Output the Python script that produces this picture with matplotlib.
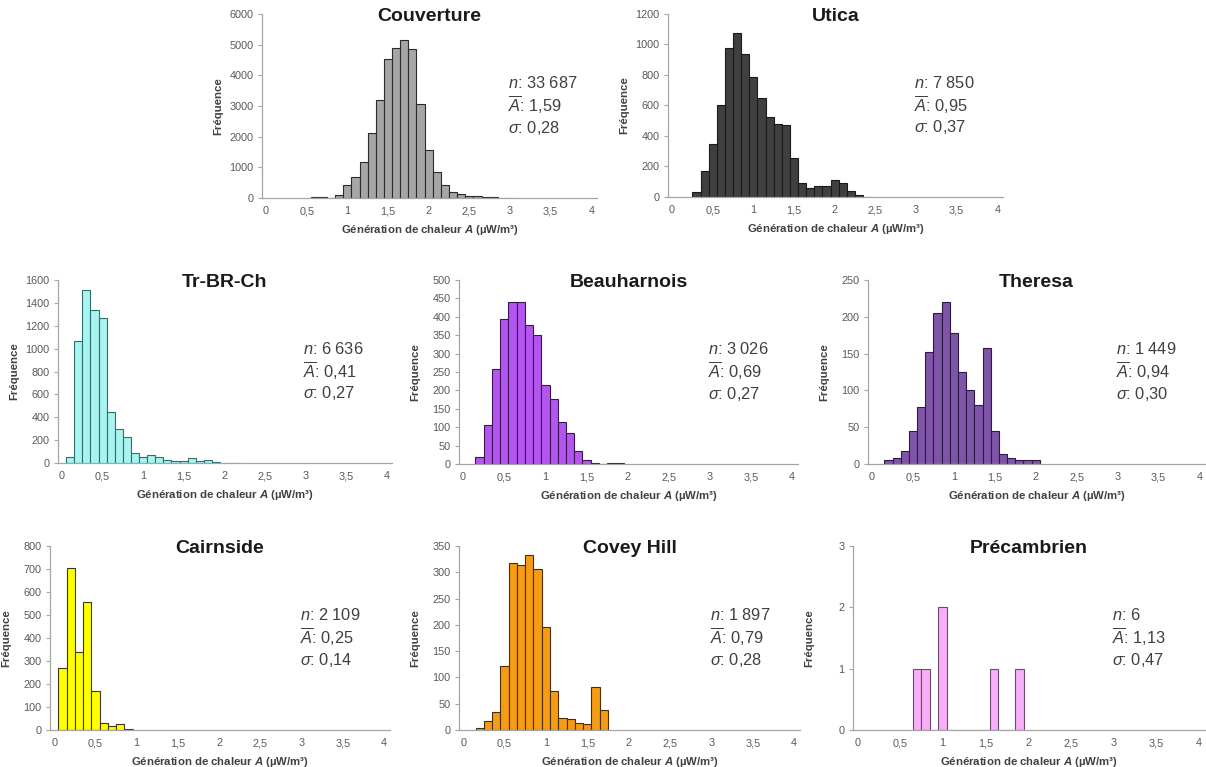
import matplotlib
matplotlib.use('Agg')
import matplotlib.pyplot as plt
import numpy as np

plt.rcParams['font.family'] = ['Liberation Sans', 'DejaVu Sans']
plt.rcParams['mathtext.fontset'] = 'custom'
plt.rcParams['mathtext.rm'] = 'Liberation Sans'
plt.rcParams['mathtext.it'] = 'Liberation Sans:italic'
plt.rcParams['mathtext.bf'] = 'Liberation Sans:bold'
plt.rcParams['mathtext.bfit'] = 'Liberation Sans:italic:bold'

## data : bin centres (width 0.1) and frequencies
names = ['Couverture', 'Utica', 'Tr-BR-Ch', 'Beauharnois', 'Theresa',
         'Cairnside', 'Covey Hill', 'Précambrien']

couverture_start = 0.6
couverture_counts = [30, 30, 5, 100, 440, 680, 1190, 2130, 3180, 4520, 4900, 5150, 4850,
                     3080, 1560, 860, 420, 210, 130, 80, 50, 40, 25, 15, 5]
utica_start = 0.3
utica_counts = [30, 170, 350, 600, 975, 1075, 935, 785, 650, 525, 480, 470, 255,
                90, 60, 75, 75, 110, 90, 40, 15, 3]
trbrch_start = 0.1
trbrch_counts = [50, 1070, 1510, 1340, 1265, 450, 295, 225, 85, 50, 70, 50, 30, 15,
                 20, 40, 20, 25, 12, 3, 2, 2]
beauharnois_start = 0.2
beauharnois_counts = [20, 105, 258, 393, 440, 441, 378, 350, 215, 177, 113, 83, 35,
                      10, 3, 1, 2, 2]
theresa_start = 0.2
theresa_counts = [5, 8, 18, 45, 78, 152, 205, 220, 178, 125, 100, 80, 157, 45, 14,
                  8, 6, 6, 5]
cairnside_start = 0.1
cairnside_counts = [270, 705, 340, 555, 170, 30, 18, 25, 5]
coveyhill_start = 0.2
coveyhill_counts = [3, 17, 35, 122, 317, 313, 333, 307, 195, 75, 23, 20, 13, 11, 82, 38]
precambrien_start = 0.7
precambrien_counts = [1, 1, 0, 2, 0, 0, 0, 0, 0, 1, 0, 0, 1]

starts = [couverture_start, utica_start, trbrch_start, beauharnois_start, theresa_start,
          cairnside_start, coveyhill_start, precambrien_start]
counts = [couverture_counts, utica_counts, trbrch_counts, beauharnois_counts, theresa_counts,
          cairnside_counts, coveyhill_counts, precambrien_counts]

n_str = ['33 687', '7 850', '6 636', '3 026', '1 449', '2 109', '1 897', '6']
mean_str = ['1,59', '0,95', '0,41', '0,69', '0,94', '0,25', '0,79', '1,13']
sigma_str = ['0,28', '0,37', '0,27', '0,27', '0,30', '0,14', '0,28', '0,47']

ymax = [6000, 1200, 1600, 500, 250, 800, 350, 3]
ystep = [1000, 200, 200, 50, 50, 100, 50, 1]

xticks = [0, 0.5, 1, 1.5, 2, 2.5, 3, 3.5, 4]
xticklabels = ['0', '0,5', '1', '1,5', '2', '2,5', '3', '3,5', '4']

facecols = ['#a6a6a6', '#404040', '#a8f4f0', '#b455f0', '#7f55a8', '#ffff00', '#f59b14', '#f9aef9']
edgecols = ['#2a2a2a', '#1a1a1a', '#2f6f6f', '#3a1456', '#2e1a46', '#3a3a10', '#4a2e05', '#6b4b6b']

# axes boxes in pixels: left, top, right, bottom
boxes = [(262, 14, 597, 198), (668, 14, 1003, 197),
         (58, 280, 392, 463), (459, 280, 798, 464), (868, 280, 1205, 464),
         (50, 546, 390, 730), (459, 546, 800, 730), (853, 546, 1205, 730)]

W, H = 1206, 767
fig = plt.figure(figsize=(W / 100, H / 100), dpi=100)

for i in range(len(names)):
    l, t, r, b = boxes[i]
    ax = fig.add_axes([l / W, 1 - b / H, (r - l) / W, (b - t) / H])
    centres = np.round(starts[i] + 0.1 * np.arange(len(counts[i])), 2)
    ax.bar(centres, counts[i], width=0.1, color=facecols[i], edgecolor=edgecols[i], linewidth=0.8)

    ax.set_xlim(-0.05, 4.07)
    ax.set_ylim(0, ymax[i])
    ax.set_xticks(xticks)
    ax.set_xticklabels(xticklabels)
    ax.set_yticks(np.arange(0, ymax[i] + ystep[i] / 2, ystep[i]))
    ax.tick_params(axis='x', length=0, pad=6, labelsize=7.8, colors='#595959')
    ax.tick_params(axis='y', length=3, width=0.8, pad=3, labelsize=7.8, colors='#595959', color='#a6a6a6')
    for s in ['top', 'right']:
        ax.spines[s].set_visible(False)
    for s in ['left', 'bottom']:
        ax.spines[s].set_color('#a6a6a6')
        ax.spines[s].set_linewidth(0.9)

    ax.set_xlabel(r'Génération de chaleur $\mathbfit{A}$ (µW/m³)', fontsize=8.2, fontweight='bold', color='#404040')
    ax.xaxis.label.set_va('center')
    ax.xaxis.set_label_coords(0.5, -32 / (b - t))
    ax.set_ylabel('Fréquence', fontsize=8.2, fontweight='bold', color='#404040')
    ax.yaxis.label.set_va('center')
    ax.yaxis.set_label_coords(-44 / (r - l), 0.5)

    ax.text(0.5, 0.985, names[i], transform=ax.transAxes, ha='center', va='center',
            fontsize=14, fontweight='bold', color='#1a1a1a')

    ax.text(0.735, 0.625, r'$n$: ' + n_str[i], transform=ax.transAxes, va='center', fontsize=11.8, color='#404040')
    ax.text(0.735, 0.503, r'$\overline{A}$: ' + mean_str[i], transform=ax.transAxes, va='center', fontsize=11.8, color='#404040')
    ax.text(0.735, 0.381, r'$\sigma$: ' + sigma_str[i], transform=ax.transAxes, va='center', fontsize=11.8, color='#404040')

plt.savefig('out.png', dpi=100)
